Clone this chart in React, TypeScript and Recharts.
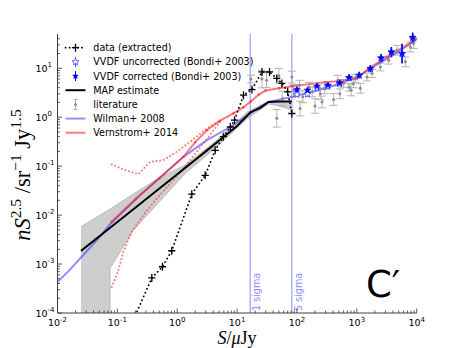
import React from 'react';
import { ComposedChart, Line, Area, Scatter, XAxis, YAxis, ErrorBar, ReferenceLine, Label } from 'recharts';

// ---- axes ----
const xMajor = [0.01, 0.1, 1, 10, 100, 1000, 10000];
const xExp = ['-2', '-1', '0', '1', '2', '3', '4'];
const yMajor = [1e-4, 1e-3, 1e-2, 1e-1, 1, 10];
const yExp = ['-4', '-3', '-2', '-1', '0', '1'];
const minorMult = [2, 3, 4, 5, 6, 7, 8, 9];
const yTop = 50;

// ---- MAP estimate ----
const mapS = [0.0247, 0.1, 0.3, 1, 3, 6, 10, 16.6, 24.4, 33.5, 50, 82];
const mapV = [1.86e-3, 7.2e-3, 0.021, 0.068, 0.2, 0.4, 0.66, 1.25, 1.55, 2.05, 2.1, 2.1];

// ---- MAP uncertainty band ----
const bandS = [0.0247, 0.0755, 0.0756, 0.185, 0.5, 1.36, 4.6, 15, 33.5, 50, 82];
const bandLo = [1e-6, 1e-6, 8.2e-4, 4.9e-3, 0.0186, 0.071, 0.25, 0.95, 1.85, 1.7, 1.39];
const bandHi = [5.8e-3, 0.0133, 0.0133, 0.027, 0.058, 0.105, 0.34, 1.3, 2.08, 2.12, 2.15];

// ---- Wilman+ 2008 ----
const wilS = [0.01, 0.015, 0.0238, 0.048, 0.0755, 0.24, 1.27, 3.13, 7.7, 16.6, 24, 33.5, 82, 178, 436, 1000, 1600, 3600, 10000];
const wilV = [4.3e-4, 7e-4, 1.3e-3, 3.3e-3, 6.5e-3, 0.0256, 0.155, 0.34, 0.63, 1.19, 1.62, 2.05, 2.6, 3.28, 4.5, 6.6, 9.5, 17, 38];

// ---- Vernstrom+ 2014 ----
const verS = [0.08, 0.2, 0.5, 1.27, 2.0, 3.13, 5.2, 8.7, 12.8, 17, 23, 30, 50, 82, 296, 528, 1007, 1575, 3200, 10000];
const verV = [7.3e-3, 0.021, 0.056, 0.155, 0.31, 0.54, 0.85, 1.2, 1.6, 2.1, 2.9, 3.5, 3.9, 4.3, 5.2, 5.5, 6.2, 9.86, 17, 40];
const verUpS = [0.0805, 0.135, 0.224, 0.352, 0.588, 0.98, 1.64, 3.13, 5.2];
const verUpV = [0.108, 0.083, 0.0687, 0.122, 0.133, 0.196, 0.313, 0.59, 0.85];
const verLoS = [0.0805, 0.104, 0.126, 0.174, 0.272, 0.43, 0.76, 1.27, 2.0, 3.13, 5.2];
const verLoV = [3.4e-4, 7.5e-4, 1.78e-3, 4.56e-3, 0.01, 0.0202, 0.044, 0.09, 0.18, 0.36, 0.8];

// ---- data (extracted) ----
const datS = [0.2, 0.376, 0.566, 0.81, 1.75, 2.93, 4.3, 5.9, 7.7, 9.06, 12.8, 17.7, 26, 34.8, 46, 56, 70, 82];
const datV = [9e-5, 5.2e-4, 8.8e-4, 1.87e-3, 0.0268, 0.065, 0.21, 0.4, 0.63, 0.87, 2.81, 3.67, 8.4, 8.4, 6.2, 4.9, 3.3, 1.19];

// ---- VVDF (Bondi+ 2003) ----
const vvS = [100, 150, 216, 330, 515, 741, 1096, 1683, 2540, 3777, 5700, 8570];
const vvCorr = [3.67, 3.56, 4.3, 4.5, 5.0, 6.46, 7.2, 9.86, 16.2, 21.5, 20, 42.4];
const vvUnc = [2.9, 2.95, 3.9, 4.2, 4.8, 6.3, 7.1, 9.7, 16, 21.2, 19.8, 42];
const vvErrDex = [0.05, 0.05, 0.05, 0.05, 0.05, 0.06, 0.06, 0.07, 0.08, 0.1, 0.2, 0.1];

// ---- literature ----
const litS = [17, 26, 31, 46, 50, 57, 82, 88, 110, 113, 125, 160, 180, 200, 245, 262, 290, 410, 480, 520, 600, 740, 800, 880, 944, 1144, 1481, 1796, 2470, 3400, 4700, 6470, 7850, 8900];
const litV = [6.0, 6.0, 5.7, 0.95, 7.0, 2.4, 6.6, 3.5, 4.5, 1.5, 2.6, 4.1, 3.3, 1.7, 3.0, 2.05, 3.8, 2.3, 5.7, 3.0, 4.9, 4.1, 3.6, 4.8, 6.2, 3.9, 6.6, 7.8, 10.6, 14.6, 23.3, 13.5, 27.2, 31.9];
const litErrDex = [0.08, 0.18, 0.15, 0.18, 0.15, 0.15, 0.12, 0.12, 0.1, 0.15, 0.12, 0.1, 0.1, 0.15, 0.12, 0.12, 0.1, 0.12, 0.1, 0.1, 0.08, 0.08, 0.12, 0.08, 0.08, 0.1, 0.08, 0.08, 0.08, 0.08, 0.1, 0.1, 0.1, 0.1];

const sigma1 = 16.6;
const sigma5 = 82;

// ---- build ----
const pts = (xs: number[], ys: number[]) => xs.map((x, i) => ({ x, y: ys[i] }));
const errPts = (xs: number[], ys: number[], d: number[]) =>
  xs.map((x, i) => ({ x, y: ys[i], err: [ys[i] - ys[i] / Math.pow(10, d[i]), ys[i] * Math.pow(10, d[i]) - ys[i]] }));

const xTicks: number[] = [];
xMajor.forEach((m, i) => { xTicks.push(m); if (i < xMajor.length - 1) minorMult.forEach(k => xTicks.push(m * k)); });
const yTicks: number[] = [];
yMajor.forEach(m => { yTicks.push(m); minorMult.forEach(k => { if (m * k < yTop) yTicks.push(m * k); }); });

const mapData = pts(mapS, mapV);
const bandData = bandS.map((x, i) => ({ x, range: [bandLo[i], bandHi[i]] }));
const wilData = pts(wilS, wilV);
const verData = pts(verS, verV);
const verUpData = pts(verUpS, verUpV);
const verLoData = pts(verLoS, verLoV);
const datData = pts(datS, datV);
const corrData = errPts(vvS, vvCorr, vvErrDex);
const uncData = errPts(vvS, vvUnc, vvErrDex);
const litData = errPts(litS, litV, litErrDex);

const FONT = 'DejaVu Sans, Bitstream Vera Sans, sans-serif';
const SERIF = 'Liberation Serif, DejaVu Serif, serif';
const majorIndex = (arr: number[], v: number) => arr.findIndex(m => Math.abs(m - v) < m * 1e-6);

const BottomTick = (p: any) => {
  const { x, y, payload } = p;
  const i = majorIndex(xMajor, payload.value);
  return (
    <g>
      <line x1={x} x2={x} y1={y} y2={y - (i >= 0 ? 4.5 : 2.5)} stroke="#333" strokeWidth={0.8} />
      {i >= 0 && (
        <text x={x} y={y + 13} textAnchor="middle" fontSize={9.5} fontFamily={FONT} fill="#000">
          10<tspan dy={-4.5} fontSize={7}>{xExp[i]}</tspan>
        </text>
      )}
    </g>
  );
};
const TopTick = (p: any) => {
  const { x, y, payload } = p;
  const i = majorIndex(xMajor, payload.value);
  return <line x1={x} x2={x} y1={y} y2={y + (i >= 0 ? 4.5 : 2.5)} stroke="#333" strokeWidth={0.8} />;
};
const LeftTick = (p: any) => {
  const { x, y, payload } = p;
  const i = majorIndex(yMajor, payload.value);
  return (
    <g>
      <line x1={x} x2={x + (i >= 0 ? 4.5 : 2.5)} y1={y} y2={y} stroke="#333" strokeWidth={0.8} />
      {i >= 0 && (
        <text x={x - 22} y={y + 3.5} textAnchor="start" fontSize={9.5} fontFamily={FONT} fill="#000">
          10<tspan dy={-4.5} fontSize={7}>{yExp[i]}</tspan>
        </text>
      )}
    </g>
  );
};
const RightTick = (p: any) => {
  const { x, y, payload } = p;
  const i = majorIndex(yMajor, payload.value);
  return <line x1={x} x2={x - (i >= 0 ? 4.5 : 2.5)} y1={y} y2={y} stroke="#333" strokeWidth={0.8} />;
};

const starPath = (cx: number, cy: number, R: number, r: number) => {
  let d = '';
  for (let k = 0; k < 10; k++) {
    const a = -Math.PI / 2 + (k * Math.PI) / 5;
    const rr = k % 2 === 0 ? R : r;
    d += (k === 0 ? 'M' : 'L') + (cx + rr * Math.cos(a)).toFixed(2) + ',' + (cy + rr * Math.sin(a)).toFixed(2);
  }
  return d + 'Z';
};
const FilledStar = (p: any) => <path d={starPath(p.cx, p.cy, 3.6, 1.6)} fill="#0000ff" stroke="#0000ff" strokeWidth={0.4} />;
const OpenStar = (p: any) => <path d={starPath(p.cx, p.cy, 3.6, 1.6)} fill="#ffffff" stroke="#3344ff" strokeWidth={0.8} />;
const LitDot = (p: any) => <circle cx={p.cx} cy={p.cy} r={1.5} fill="#8c8c8c" />;

const PlusDot = (p: any) => {
  const { cx, cy, index } = p;
  if (index === 0 || cx == null || cy == null) return <g key={`pd${index}`} />;
  return <path key={`pd${index}`} d={`M${cx - 3.6},${cy}H${cx + 3.6}M${cx},${cy - 4}V${cy + 4}`} stroke="#000" strokeWidth={1.3} />;
};
const RedDot = (p: any) => {
  const { cx, cy, index } = p;
  if (cx == null || cy == null) return <g key={`rd${index}`} />;
  return <circle key={`rd${index}`} cx={cx} cy={cy} r={1.2} fill="#ff2a2a" fillOpacity={0.7} />;
};

const sigmaLabel = (text: string) => (props: any) => {
  const vb = props.viewBox || {};
  const x = (vb.x ?? 0) + 10;
  const y = (vb.y ?? 0) + (vb.height ?? 0) - 2;
  return (
    <text x={x} y={y} transform={`rotate(-90 ${x} ${y})`} fontSize={9.6} fontFamily={FONT} fill="#8c8cff">
      {text}
    </text>
  );
};

const legendItems = [
  'data (extracted)',
  'VVDF uncorrected (Bondi+ 2003)',
  'VVDF corrected (Bondi+ 2003)',
  'MAP estimate',
  'literature',
  'Wilman+ 2008',
  'Vernstrom+ 2014',
];

const Overlay = () => {
  const ix0 = 57.5, ix1 = 77.5, icx = 67.5, tx = 85.3, y0 = 39.7, dy = 14.17;
  return (
    <svg width={455} height={340} style={{ position: 'absolute', left: 0, top: 0, pointerEvents: 'none' }}>
      {legendItems.map((t, i) => {
        const cy = y0 + i * dy;
        let icon: React.ReactNode = null;
        if (i === 0) icon = (<g><line x1={ix0} x2={ix1} y1={cy} y2={cy} stroke="#000" strokeWidth={1.8} strokeDasharray="0.1 4" strokeLinecap="round" /><path d={`M${icx - 3.6},${cy}H${icx + 3.6}M${icx},${cy - 4}V${cy + 4}`} stroke="#000" strokeWidth={1.3} /></g>);
        if (i === 1) icon = (<g><line x1={icx} x2={icx} y1={cy - 5} y2={cy + 5} stroke="#3344ff" strokeWidth={1} /><path d={starPath(icx, cy, 3.6, 1.6)} fill="#fff" stroke="#3344ff" strokeWidth={0.8} /></g>);
        if (i === 2) icon = (<g><line x1={icx} x2={icx} y1={cy - 5} y2={cy + 5} stroke="#0000ff" strokeWidth={1} /><path d={starPath(icx, cy, 3.6, 1.6)} fill="#0000ff" /></g>);
        if (i === 3) icon = <line x1={ix0} x2={ix1} y1={cy} y2={cy} stroke="#000" strokeWidth={2} />;
        if (i === 4) icon = (<g><line x1={icx} x2={icx} y1={cy - 5} y2={cy + 5} stroke="#aaa" strokeWidth={1} /><line x1={icx - 2} x2={icx + 2} y1={cy - 5} y2={cy - 5} stroke="#aaa" /><line x1={icx - 2} x2={icx + 2} y1={cy + 5} y2={cy + 5} stroke="#aaa" /><circle cx={icx} cy={cy} r={1.5} fill="#8c8c8c" /></g>);
        if (i === 5) icon = <line x1={ix0} x2={ix1} y1={cy} y2={cy} stroke="#3333ff" strokeOpacity={0.55} strokeWidth={2} />;
        if (i === 6) icon = <line x1={ix0} x2={ix1} y1={cy} y2={cy} stroke="#ff2222" strokeOpacity={0.6} strokeWidth={2} />;
        return (
          <g key={t}>
            {icon}
            <text x={tx} y={cy + 3.5} fontSize={9.6} fontFamily={FONT} fill="#000">{t}</text>
          </g>
        );
      })}
      <text x={22} y={167} transform="rotate(-90 22 167)" textAnchor="middle" fontSize={22.5} fontFamily={SERIF} fill="#000">
        <tspan fontStyle="italic">nS</tspan>
        <tspan dy={-9} fontSize={15.5}>2.5</tspan>
        <tspan dy={9}> /sr</tspan>
        <tspan dy={-9} fontSize={15.5}>−1</tspan>
        <tspan dy={9}> Jy</tspan>
        <tspan dy={-9} fontSize={15.5}>1.5</tspan>
      </text>
      <text x={229} y={336} textAnchor="middle" fontSize={18} fontFamily={SERIF} fill="#000">
        <tspan fontStyle="italic">S</tspan>/<tspan fontStyle="italic">μ</tspan>Jy
      </text>
      <text x={358} y={289} fontSize={37} fontFamily={FONT} fill="#000">C′</text>
    </svg>
  );
};

export default function App() {
  return (
    <div style={{ position: 'relative', width: 455, height: 340 }}>
      <ComposedChart width={455} height={340} margin={{ top: 26, right: 46.3, bottom: 0, left: 0 }}>
        <XAxis dataKey="x" type="number" scale="log" domain={[0.01, 10000]} allowDataOverflow ticks={xTicks} interval={0}
          height={35} tickSize={0} tickMargin={0} tick={<BottomTick />} tickLine={false} axisLine={{ stroke: '#404040' }} />
        <XAxis xAxisId="top" orientation="top" dataKey="x" type="number" scale="log" domain={[0.01, 10000]} allowDataOverflow ticks={xTicks} interval={0}
          height={0} tickSize={0} tickMargin={0} tick={<TopTick />} tickLine={false} axisLine={{ stroke: '#404040' }} />
        <YAxis dataKey="y" type="number" scale="log" domain={[1e-4, yTop]} allowDataOverflow ticks={yTicks} interval={0}
          width={49.5} tickSize={0} tickMargin={0} tick={<LeftTick />} tickLine={false} axisLine={{ stroke: '#404040' }} />
        <YAxis yAxisId="right" orientation="right" dataKey="y" type="number" scale="log" domain={[1e-4, yTop]} allowDataOverflow ticks={yTicks} interval={0}
          width={0} tickSize={0} tickMargin={0} tick={<RightTick />} tickLine={false} axisLine={{ stroke: '#404040' }} />

        <Area data={bandData} dataKey="range" type="linear" fill="#bdbdbd" fillOpacity={0.75} stroke="#a0a0a0" strokeWidth={0.6} isAnimationActive={false} />

        <ReferenceLine x={sigma1} stroke="#b0b0ff" strokeWidth={1.5}>
          <Label content={sigmaLabel('1 sigma')} />
        </ReferenceLine>
        <ReferenceLine x={sigma5} stroke="#b0b0ff" strokeWidth={1.5}>
          <Label content={sigmaLabel('5 sigma')} />
        </ReferenceLine>

        <Scatter data={litData} shape={<LitDot />} isAnimationActive={false}>
          <ErrorBar dataKey="err" direction="y" width={4} stroke="#b4b4b4" strokeWidth={1} />
        </Scatter>

        <Line data={wilData} dataKey="y" type="linear" stroke="#3333ff" strokeOpacity={0.55} strokeWidth={2} dot={false} isAnimationActive={false} />
        <Line data={verUpData} dataKey="y" type="linear" stroke="#ff3333" strokeOpacity={0.65} strokeWidth={2} strokeDasharray="0.1 3.6" strokeLinecap="round" dot={false} isAnimationActive={false} />
        <Line data={verLoData} dataKey="y" type="linear" stroke="#ff3333" strokeOpacity={0.65} strokeWidth={2} strokeDasharray="0.1 3.6" strokeLinecap="round" dot={false} isAnimationActive={false} />
        <Line data={verData} dataKey="y" type="linear" stroke="#ff2222" strokeOpacity={0.6} strokeWidth={2} dot={<RedDot />} isAnimationActive={false} />

        <Line data={mapData} dataKey="y" type="linear" stroke="#000" strokeWidth={2} dot={false} isAnimationActive={false} />
        <Line data={datData} dataKey="y" type="linear" stroke="#000" strokeWidth={1.8} strokeDasharray="0.1 4" strokeLinecap="round" dot={<PlusDot />} isAnimationActive={false} />

        <Scatter data={uncData} shape={<OpenStar />} isAnimationActive={false}>
          <ErrorBar dataKey="err" direction="y" width={0} stroke="#3344ff" strokeWidth={1.2} />
        </Scatter>
        <Scatter data={corrData} shape={<FilledStar />} isAnimationActive={false}>
          <ErrorBar dataKey="err" direction="y" width={0} stroke="#0000ff" strokeWidth={1.5} />
        </Scatter>
      </ComposedChart>
      <Overlay />
    </div>
  );
}
